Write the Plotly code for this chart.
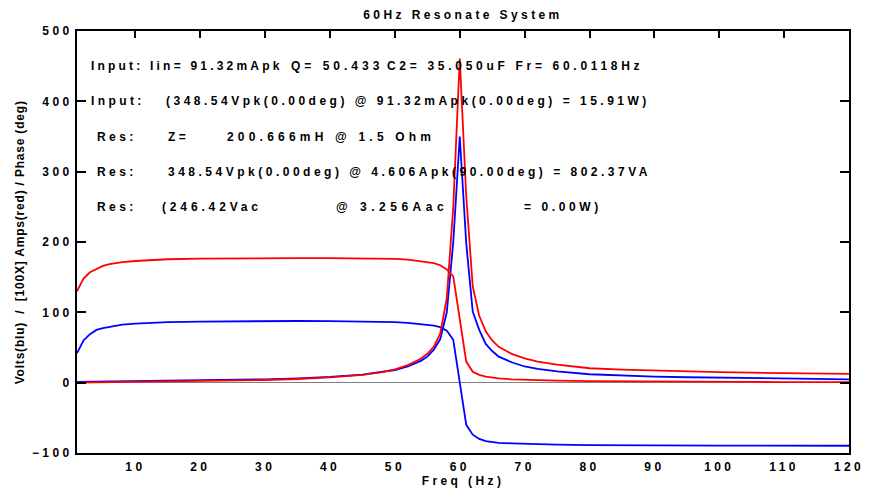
import plotly.graph_objects as go

# ---------------- data ----------------
freq = [1, 2, 3, 4, 5, 6, 7, 8, 10, 12, 15, 20, 25, 30, 35, 40, 45, 48, 50, 52,
        54, 55, 56, 57, 58, 59, 60, 61, 62, 63, 64, 65, 66, 68, 70, 72, 75, 80,
        85, 90, 95, 100, 105, 110, 115, 120]

phase_blue = [42, 60, 69, 75, 77.5, 79.5, 81, 82.5, 84, 85, 86, 86.8, 87.3, 87.6,
              87.7, 87.6, 87.2, 86.6, 86, 85, 83.5, 82.5, 81, 79, 74, 61, 0, -60,
              -74, -80, -83, -84.5, -85.5, -86.3, -87, -87.5, -88, -88.7, -89.1,
              -89.4, -89.5, -89.6, -89.6, -89.7, -89.7, -89.7]

amps_red = [130, 148, 157, 162, 166, 168.5, 170, 171.3, 173, 174.3, 175.5, 176.5,
            177, 177, 177, 177, 177, 176.5, 176, 175, 173, 172, 170, 167, 161, 151,
            88, 30, 15.5, 11, 8.5, 7, 6, 4.8, 4, 3.4, 2.8, 2.1, 1.7, 1.4, 1.2, 1.1,
            1, 0.9, 0.8, 0.8]

res_red = [0.2, 0.3, 0.4, 0.5, 0.6, 0.7, 0.8, 0.9, 1.1, 1.3, 1.6, 2.2, 2.9, 3.8,
           5.2, 7.5, 11, 15, 19, 25, 34, 41, 51, 70, 120, 250, 461, 265, 137, 95,
           73, 60, 51, 41, 34.5, 30, 25.5, 20.5, 18.5, 17, 16, 15, 14.2, 13.4,
           12.9, 12.4]

res_blue = [1.2, 1.3, 1.4, 1.5, 1.6, 1.7, 1.8, 1.9, 2.1, 2.3, 2.6, 3, 3.8, 4.8,
            6.2, 8.3, 11.5, 15, 18, 23, 31, 37, 47, 62, 100, 200, 350, 198, 101,
            75, 55, 45, 37, 29, 23, 19.5, 16, 12, 10, 8.5, 7.7, 7.1, 6.4, 5.8,
            5.2, 4.8]

x_ticks = [10, 20, 30, 40, 50, 60, 70, 80, 90, 100, 110, 120]
y_ticks = [-100, 0, 100, 200, 300, 400, 500]

title_text = "60Hz Resonate System"
x_title = "Freq (Hz)"
y_title = "Volts(blu)\u00a0\u00a0/\u00a0\u00a0[100X] Amps(red) / Phase (deg)"

# text lines: (x in Hz, y in plot units, text)
info_texts = [
    (3.0, 450, "Input: Iin= 91.32mApk"),
    (33.9, 450, "Q= 50.433"),
    (48.6, 450, "C2= 35.050uF Fr= 60.0118Hz"),
    (3.0, 400, "Input:"),
    (14.6, 400, "(348.54Vpk(0.00deg) @ 91.32mApk(0.00deg) = 15.91W)"),
    (3.9, 350, "Res:"),
    (14.8, 350, "Z="),
    (24.0, 350, "200.666mH @ 1.5 Ohm"),
    (3.9, 300, "Res:"),
    (14.8, 300, "348.54Vpk(0.00deg) @ 4.606Apk(90.00deg) = 802.37VA"),
    (3.9, 250, "Res:"),
    (14.0, 250, "(246.42Vac"),
    (40.8, 250, "@ 3.256Aac"),
    (69.8, 250, "= 0.00W)"),
]
# letter spacing (px) for each info text, same order
info_spacing = [3.2, 4.0, 3.7, 3.4, 3.5, 3.4, 3.4, 4.2, 3.4, 3.5, 3.4, 3.85, 4.5, 3.6]

FONT = "Liberation Sans, Arial, Helvetica, sans-serif"

fig = go.Figure()
lw = 1.8
fig.add_trace(go.Scatter(x=freq, y=phase_blue, mode="lines",
                         line=dict(color="#0000ff", width=lw), showlegend=False))
fig.add_trace(go.Scatter(x=freq, y=res_blue, mode="lines",
                         line=dict(color="#0000ff", width=lw), showlegend=False))
fig.add_trace(go.Scatter(x=freq, y=amps_red, mode="lines",
                         line=dict(color="#ff0000", width=lw), showlegend=False))
fig.add_trace(go.Scatter(x=freq, y=res_red, mode="lines",
                         line=dict(color="#ff0000", width=lw), showlegend=False))
# invisible trace to carry the top tick axis
fig.add_trace(go.Scatter(x=freq, y=res_red, mode="markers", xaxis="x2",
                         marker=dict(opacity=0), hoverinfo="skip", showlegend=False))

annotations = []
# y-axis title (index 0)
annotations.append(dict(text=y_title, xref="paper", yref="paper",
                        x=-0.0734, y=0.5, xanchor="center", yanchor="middle",
                        textangle=-90, showarrow=False, borderpad=0,
                        font=dict(family=FONT, size=12, color="black", weight=700)))
# x-axis title (index 1)
annotations.append(dict(text=x_title, xref="paper", yref="paper",
                        x=0.5, y=-0.0664, xanchor="center", yanchor="middle",
                        showarrow=False, borderpad=0,
                        font=dict(family=FONT, size=12, color="black", weight=700)))
for xx, yy, tt in info_texts:
    annotations.append(dict(text=tt, x=xx, y=yy, xref="x", yref="y",
                            xanchor="left", yanchor="middle", align="left",
                            showarrow=False, borderpad=0,
                            font=dict(family=FONT, size=12, color="black", weight=700)))

fig.update_layout(
    width=871, height=489,
    margin=dict(l=77, r=17, t=31, b=36),
    paper_bgcolor="white", plot_bgcolor="white",
    font=dict(family=FONT, size=12, color="black", weight=700),
    title=dict(text=title_text, x=0.5, xref="paper", xanchor="center",
               y=1 - 15 / 489, yanchor="middle",
               font=dict(family=FONT, size=12, color="black", weight=700)),
    xaxis=dict(range=[1, 120], tickvals=x_ticks, ticks="", showline=True,
               linecolor="black", linewidth=2, mirror=True, showgrid=False,
               zeroline=False, ticklabelstandoff=2,
               tickfont=dict(family=FONT, size=12, color="black", weight=700)),
    xaxis2=dict(range=[1, 120], overlaying="x", side="top", tickvals=x_ticks,
                ticks="inside", ticklen=7, tickwidth=1.5, tickcolor="black",
                showticklabels=False, showline=False, showgrid=False,
                zeroline=False),
    yaxis=dict(range=[-100, 500], tickvals=y_ticks, ticks="inside", ticklen=9,
               tickwidth=1.5, tickcolor="black", showline=True, linecolor="black",
               linewidth=2, mirror="ticks", showgrid=False, zeroline=True,
               zerolinecolor="#808080", zerolinewidth=1,
               tickfont=dict(family=FONT, size=12, color="black", weight=700)),
    annotations=annotations,
    showlegend=False,
)

css = ["html,body{margin:0;padding:0;overflow:hidden;}",
       ".main-svg text{letter-spacing:3.4px;}",
       '.main-svg g.annotation[data-index="0"] text{letter-spacing:0.8px;}']
for i, sp in enumerate(info_spacing):
    css.append('.main-svg g.annotation[data-index="%d"] text{letter-spacing:%.2fpx;}' % (i + 2, sp))

post = ("var s = document.createElement('style');"
        "s.textContent = %r;"
        "document.head.appendChild(s);") % " ".join(css)

fig.write_html("out.html", post_script=post, config={"displayModeBar": False})
